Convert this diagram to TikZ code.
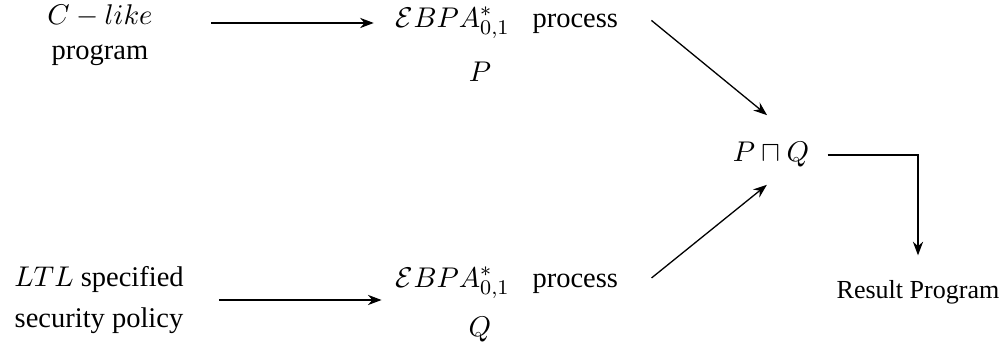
\documentclass[tikz,border=0pt]{standalone}
\usepackage{fontspec}
\setmainfont{Liberation Serif}
\usepackage{amsmath}
\usetikzlibrary{arrows.meta,positioning}

\begin{document}
\begin{tikzpicture}[
  x=0.0135cm, y=-0.0135cm,
  font=\fontsize{10.95}{13.6}\selectfont,
  >=Stealth,
  txt/.style   ={align=center},
  arrow/.style ={->,line width=0.5pt},
]
\useasboundingbox (0,0) rectangle (1006,354);

%% ===== Inputs ================================================================
\node[txt] (cprog) at (100,35) {$C-like$\\program};
\node[txt] (ltl)   at (99,300) {$LTL$ specified\\[2pt]security policy};

%% ===== Processes =============================================================
\node (ebpaP) at (507,23)  {$\mathcal{E}BPA^{*}_{0,1}$\hspace{0.8em}process};
\node (procP) at (480,72)  {$P$};
\node (ebpaQ) at (507,283) {$\mathcal{E}BPA^{*}_{0,1}$\hspace{0.8em}process};
\node (procQ) at (480,330) {$Q$};

%% ===== Result ================================================================
\node (meet)   at (771,155) {$P\sqcap Q$};
\node[font=\fontsize{10}{12}\selectfont] (result) at (918,292) {Result Program};

%% ===== Arrows ================================================================
\draw[arrow,shorten <=19pt,shorten >=5pt]
      (cprog.east |- ebpaP.west) -- (ebpaP.west);
\draw[arrow,shorten <=10pt,shorten >=2pt]
      (ltl.east) -- (ltl.east -| ebpaQ.west);
\draw[arrow,shorten <=12pt,shorten >=11pt]
      ([yshift=8.6pt]ebpaP.east) -- ([xshift=7pt]meet.north);
\draw[arrow,shorten <=12pt,shorten >=5pt]
      ([yshift=-5.6pt]ebpaQ.east) -- ([xshift=2.3pt]meet.south);
\draw[arrow,shorten <=3.5pt,shorten >=6pt] (meet.east) -| (result.north);

\end{tikzpicture}
\end{document}
